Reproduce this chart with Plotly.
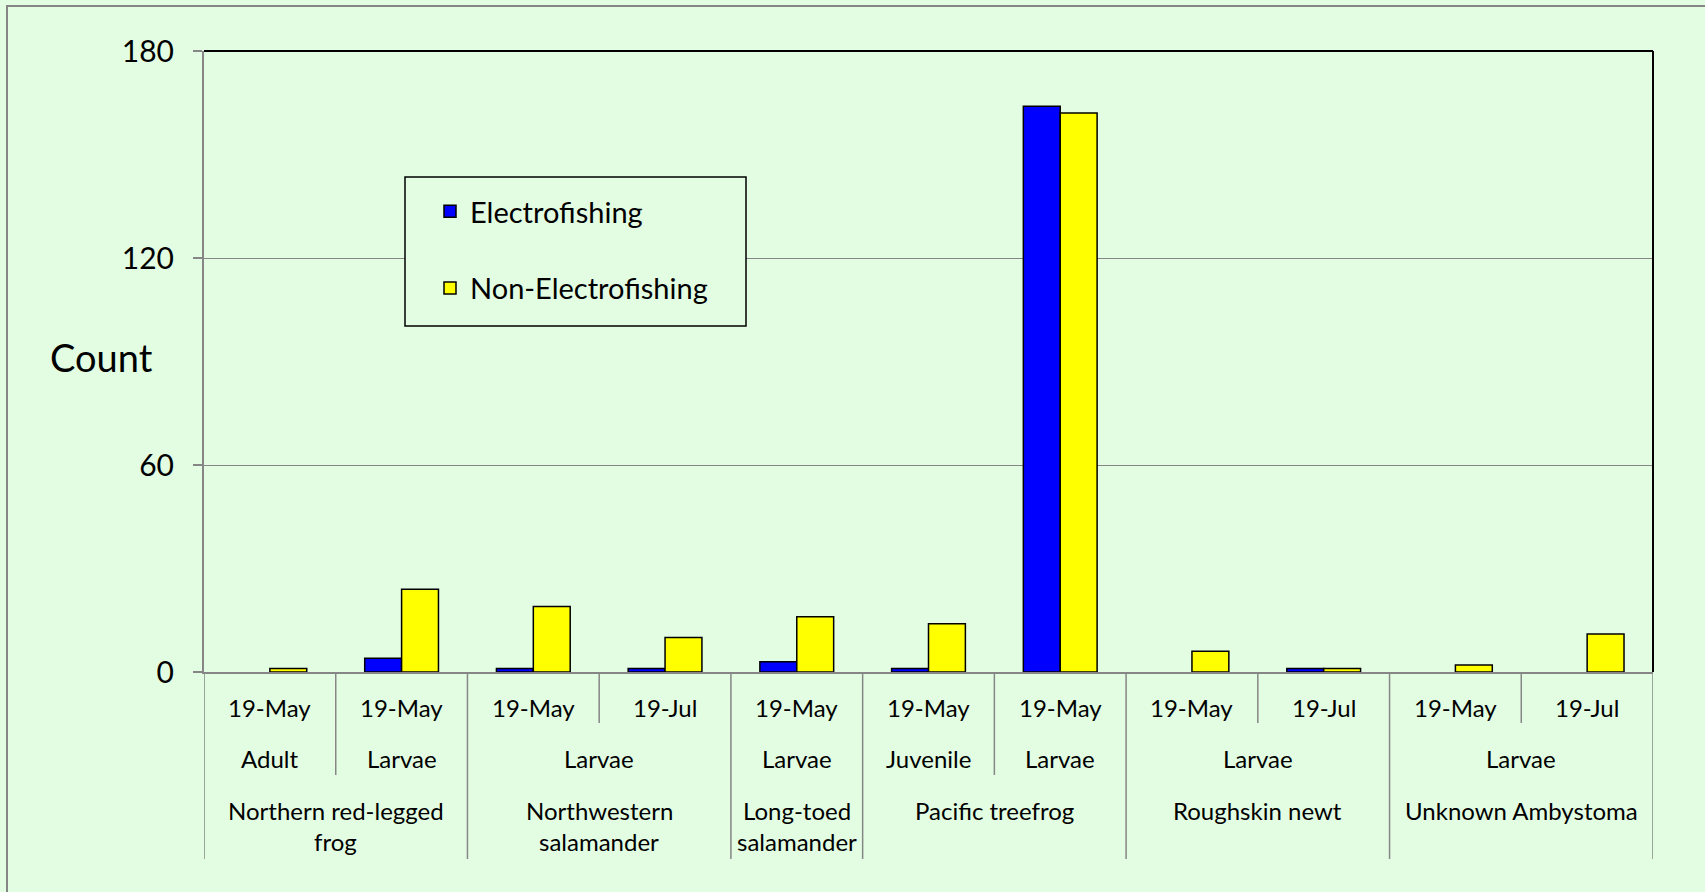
import plotly.graph_objects as go

# ---- data ----
species = ["Northern red-legged frog", "Northern red-legged frog",
           "Northwestern salamander", "Northwestern salamander",
           "Long-toed salamander", "Pacific treefrog", "Pacific treefrog",
           "Roughskin newt", "Roughskin newt",
           "Unknown Ambystoma", "Unknown Ambystoma"]
species_lines = {
    "Northern red-legged frog": ["Northern red-legged", "frog"],
    "Northwestern salamander": ["Northwestern", "salamander"],
    "Long-toed salamander": ["Long-toed", "salamander"],
    "Pacific treefrog": ["Pacific treefrog"],
    "Roughskin newt": ["Roughskin newt"],
    "Unknown Ambystoma": ["Unknown Ambystoma"],
}
stages = ["Adult", "Larvae", "Larvae", "Larvae", "Larvae", "Juvenile", "Larvae",
          "Larvae", "Larvae", "Larvae", "Larvae"]
dates = ["19-May", "19-May", "19-May", "19-Jul", "19-May", "19-May", "19-May",
         "19-May", "19-Jul", "19-May", "19-Jul"]
electro = [0, 4, 1, 1, 3, 1, 164, 0, 1, 0, 0]
non_electro = [1, 24, 19, 10, 16, 14, 162, 6, 1, 2, 11]
y_ticks = [0, 60, 120, 180]

# ---- geometry helpers (pixel -> paper) ----
W, H = 1705, 892
L, R, T, B = 204, 52, 51, 220
PW, PH = W - L - R, H - T - B
def px(x):
    return (x - L) / PW
def py(y):
    return (H - B - y) / PH

FONT = "Lato"
GRAY = "#868686"
BG = "#E3FDE3"
CAT_SIZE = 24
n = len(dates)
xs = list(range(n))

def nz(vals):
    # zero-height bars are not drawn (as in the source chart)
    return [v if v != 0 else None for v in vals]

fig = go.Figure()
fig.add_trace(go.Bar(x=xs, y=nz(electro), name="Electrofishing", legendgroup="a",
                     marker=dict(color="#0000FF", line=dict(color="black", width=1.5))))
fig.add_trace(go.Bar(x=xs, y=nz(non_electro), name="Non-Electrofishing", legendgroup="b",
                     marker=dict(color="#FFFF00", line=dict(color="black", width=1.5))))

shapes = []
annotations = []

# outer chart border
shapes.append(dict(type="rect", xref="paper", yref="paper",
                   x0=px(7), x1=px(W + 20), y0=py(H + 20), y1=py(6),
                   line=dict(color=GRAY, width=2), fillcolor="rgba(0,0,0,0)", layer="below"))
# plot area top & right border (black)
shapes.append(dict(type="line", xref="paper", yref="paper", x0=0, x1=1, y0=1, y1=1,
                   line=dict(color="black", width=2)))
shapes.append(dict(type="line", xref="paper", yref="paper", x0=1, x1=1, y0=0, y1=1,
                   line=dict(color="black", width=2)))

# hierarchical category axis separators
y_short, y_mid, y_long = py(723), py(775), py(859)
for k in range(n + 1):
    if k == 0 or k == n or species[k] != species[k - 1]:
        yb = y_long
    elif stages[k] != stages[k - 1]:
        yb = y_mid
    else:
        yb = y_short
    shapes.append(dict(type="line", xref="x", yref="paper", x0=k - 0.5, x1=k - 0.5,
                       y0=0, y1=yb, line=dict(color=GRAY, width=1.5)))

# row 1: dates
for i, d in enumerate(dates):
    annotations.append(dict(x=i, y=py(707), xref="x", yref="paper", text=d,
                            showarrow=False, font=dict(family=FONT, size=CAT_SIZE, color="black"),
                            xanchor="center", yanchor="middle"))

def runs(keys):
    out = []
    s = 0
    for k in range(1, n + 1):
        if k == n or keys[k] != keys[s]:
            out.append((s, k - 1))
            s = k
    return out

# row 2: stages (grouped within species)
for s, e in runs(list(zip(species, stages))):
    annotations.append(dict(x=(s + e) / 2, y=py(758), xref="x", yref="paper",
                            text=stages[s], showarrow=False,
                            font=dict(family=FONT, size=CAT_SIZE, color="black"),
                            xanchor="center", yanchor="middle"))

# row 3: species
for s, e in runs(species):
    for j, line in enumerate(species_lines[species[s]]):
        annotations.append(dict(x=(s + e) / 2, y=py(810 + 32 * j), xref="x", yref="paper",
                                text=line, showarrow=False,
                                font=dict(family=FONT, size=CAT_SIZE, color="black"),
                                xanchor="center", yanchor="middle"))

# y axis title
annotations.append(dict(x=px(101), y=py(357), xref="paper", yref="paper", text="Count",
                        showarrow=False, font=dict(family=FONT, size=38, color="black"),
                        xanchor="center", yanchor="middle"))

# legend box
shapes.append(dict(type="rect", xref="paper", yref="paper",
                   x0=px(405), x1=px(746), y0=py(326), y1=py(177),
                   line=dict(color="black", width=1.5), fillcolor=BG, layer="above"))

fig.update_layout(
    width=W, height=H,
    margin=dict(l=L, r=R, t=T, b=B, pad=0),
    paper_bgcolor=BG, plot_bgcolor=BG,
    barmode="group", bargap=0.44, bargroupgap=0,
    font=dict(family=FONT, color="black"),
    showlegend=True,
    legend=dict(x=px(430), y=py(186), xanchor="left", yanchor="top",
                bgcolor="rgba(0,0,0,0)", borderwidth=0,
                font=dict(family=FONT, size=29, color="black"),
                traceorder="grouped", tracegroupgap=36),
    xaxis=dict(range=[-0.5, n - 0.5], showticklabels=False, showgrid=False,
               zeroline=False, showline=True, linecolor=GRAY, linewidth=2, ticks=""),
    yaxis=dict(range=[0, 180], tickvals=y_ticks, showgrid=True, gridcolor=GRAY, gridwidth=1,
               zeroline=False, showline=True, linecolor=GRAY, linewidth=2,
               ticks="outside", ticklen=9, tickcolor=GRAY, tickwidth=2,
               ticklabelstandoff=13,
               tickfont=dict(family=FONT, size=30, color="black")),
    shapes=shapes, annotations=annotations,
)

fig.write_html("out.html", config={"displayModeBar": False},
               post_script="document.body.style.margin='0';document.body.style.overflow='hidden';")
